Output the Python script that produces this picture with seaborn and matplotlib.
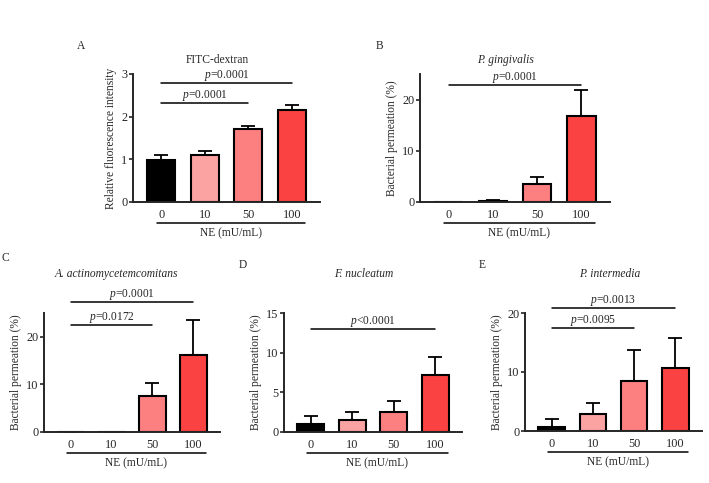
import numpy as np
import pandas as pd
import seaborn as sns
import matplotlib
matplotlib.use('Agg')
import matplotlib.pyplot as plt
import matplotlib.transforms as mtransforms

# data
doses = ['0', '10', '50', '100']
colors = ['#000000', '#FBA2A2', '#FD8080', '#FB4242']

fitc_mean = [0.98, 1.09, 1.71, 2.16]
fitc_sd = [0.11, 0.11, 0.07, 0.11]
pg_mean = [0.05, 0.25, 3.5, 16.7]
pg_sd = [0.0, 0.1, 1.4, 5.1]
aa_mean = [0.0, 0.1, 7.6, 16.1]
aa_sd = [0.0, 0.0, 2.7, 7.5]
fn_mean = [0.97, 1.56, 2.49, 7.18]
fn_sd = [1.02, 1.02, 1.44, 2.28]
pi_mean = [0.62, 2.88, 8.5, 10.76]
pi_sd = [1.36, 1.82, 5.27, 4.99]

# comparisons: (from, to, height, label)
fitc_sig = [(0, 3, 2.79, '=0.0001'), (0, 2, 2.32, '=0.0001')]
pg_sig = [(0, 3, 22.85, '=0.0001')]
aa_sig = [(0, 3, 27.3, '=0.0001'), (0, 2, 22.5, '=0.0172')]
fn_sig = [(0, 3, 13.0, '<0.0001')]
pi_sig = [(0, 3, 20.8, '=0.0013'), (0, 2, 17.5, '=0.0095')]

sns.set_style('ticks')
plt.rcParams['font.family'] = ['Liberation Serif', 'DejaVu Serif']
plt.rcParams['mathtext.fontset'] = 'custom'
plt.rcParams['mathtext.it'] = 'Liberation Serif:italic'
plt.rcParams['mathtext.rm'] = 'Liberation Serif'
FS = 8.3
TFS = 8.8

W, H = 709, 483
fig = plt.figure(figsize=(W / 100, H / 100), dpi=100)


def add_ax(l, r, t, b):
    return fig.add_axes([l / W, 1 - b / H, (r - l) / W, (b - t) / H])


def panel(ax, mean, sd, sig, ylim, yticks, ylabel, title, italic, title_pad, title_x=0.45):
    df = pd.DataFrame({'dose': doses, 'val': mean})
    sns.barplot(data=df, x='dose', y='val', hue='dose', palette=colors,
                order=doses, width=0.65, edgecolor='black', linewidth=1.5,
                saturation=1, legend=False, ax=ax, zorder=2)
    x = np.arange(len(doses))
    ax.errorbar(x, mean, yerr=[np.zeros(len(sd)), sd], fmt='none',
                ecolor='black', elinewidth=1.3, capsize=5, capthick=1.3, zorder=1)
    ax.set_xlim(-0.65, 3.65)
    ax.set_ylim(*ylim)
    ax.set_yticks(yticks)
    ax.set_ylabel(ylabel, fontsize=FS, labelpad=3)
    ax.set_xlabel('')
    ax.set_title(title, fontsize=FS, style='italic' if italic else 'normal',
                 pad=title_pad, x=title_x)
    for s in ['top', 'right']:
        ax.spines[s].set_visible(False)
    for s in ['left', 'bottom']:
        ax.spines[s].set_linewidth(1.4)
    ax.tick_params(axis='x', length=0, pad=5, labelsize=TFS)
    ax.tick_params(axis='y', length=3, width=1.2, pad=1, labelsize=TFS)
    # underline and group label
    trans = ax.get_xaxis_transform() + mtransforms.ScaledTranslation(0, -21 / 100, fig.dpi_scale_trans)
    ax.plot([-0.1, 3.3], [0, 0], color='black', lw=1.1, transform=trans, clip_on=False)
    trans2 = ax.get_xaxis_transform() + mtransforms.ScaledTranslation(0, -25 / 100, fig.dpi_scale_trans)
    ax.text(1.6, 0, 'NE (mU/mL)', transform=trans2, ha='center', va='top', fontsize=FS)
    for a, b, h, lab in sig:
        ax.plot([a, b], [h, h], color='black', lw=1.1, clip_on=False)
        ax.text((a + b) / 2, h, '$p$' + lab, ha='center', va='bottom', fontsize=FS)


axA = add_ax(133, 320, 74, 202)
axB = add_ax(420, 610, 74, 202)
axC = add_ax(44, 220, 313, 432)
axD = add_ax(284, 462, 313, 432)
axE = add_ax(525, 702, 313, 431)

ylab = 'Bacterial permeation (%)'
panel(axA, fitc_mean, fitc_sd, fitc_sig, (0, 3), [0, 1, 2, 3], 'Relative fluorescence intensity',
      'FITC-dextran', False, 8)
panel(axB, pg_mean, pg_sd, pg_sig, (0, 25), [0, 10, 20], ylab, 'P. gingivalis', True, 8)
panel(axC, aa_mean, aa_sd, aa_sig, (0, 25), [0, 10, 20], ylab, 'A. actinomycetemcomitans', True, 26,
      title_x=0.41)
panel(axD, fn_mean, fn_sd, fn_sig, (0, 15), [0, 5, 10, 15], ylab, 'F. nucleatum', True, 26)
panel(axE, pi_mean, pi_sd, pi_sig, (0, 20), [0, 10, 20], ylab, 'P. intermedia', True, 26,
      title_x=0.48)

for lab, x, y in [('A', 81, 46), ('B', 379, 46), ('C', 5, 258), ('D', 243, 265), ('E', 482, 265)]:
    fig.text(x / W, 1 - y / H, lab, fontsize=FS, ha='center', va='center')

fig.savefig('out.png', dpi=100, facecolor='white')
